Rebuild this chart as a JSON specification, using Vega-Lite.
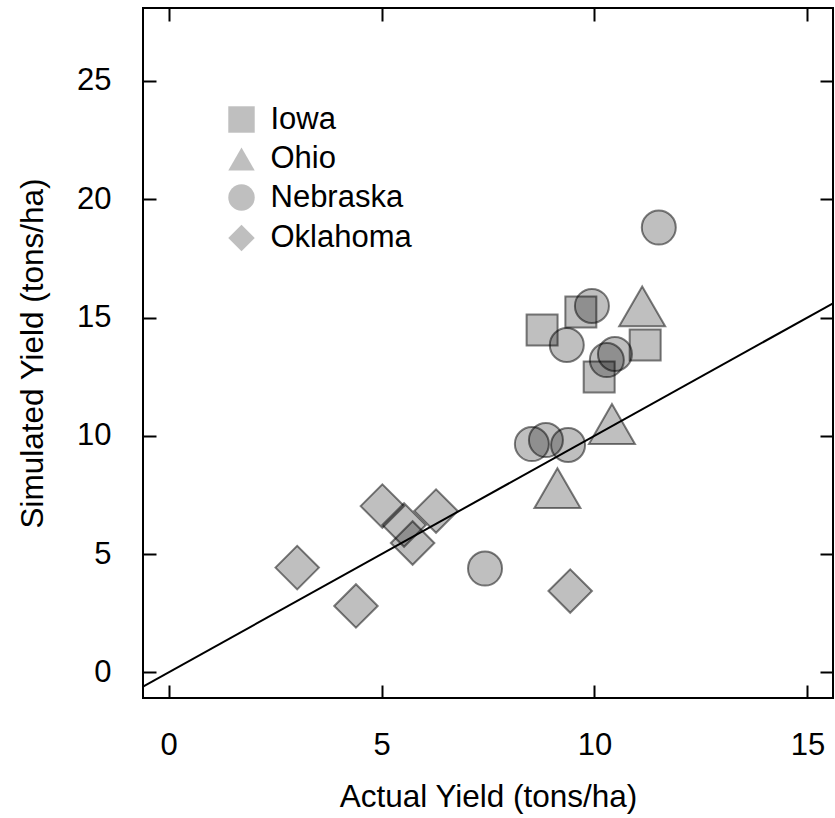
{
  "$schema": "https://vega.github.io/schema/vega-lite/v6.json",
  "width": 690,
  "height": 690,
  "autosize": {"type": "none"},
  "padding": {"left": 143, "top": 8, "right": 2, "bottom": 120},
  "background": "white",
  "config": {
    "font": "Liberation Sans",
    "view": {"stroke": "black", "strokeWidth": 2},
    "axis": {
      "grid": false,
      "domain": false,
      "tickColor": "black",
      "tickWidth": 2,
      "tickSize": -13,
      "labelFontSize": 31,
      "labelColor": "black",
      "labelFont": "Liberation Sans",
      "titleFontSize": 31.5,
      "titleColor": "black",
      "titleFont": "Liberation Sans",
      "titleFontWeight": "normal",
      "labelFlush": false,
      "labelOverlap": false
    },
    "legend": {
      "orient": "none",
      "legendX": 83,
      "legendY": 96,
      "padding": 0,
      "labelFontSize": 31,
      "labelColor": "black",
      "labelFont": "Liberation Sans",
      "labelOffset": 13.5,
      "rowPadding": 5.5,
      "symbolSize": 700,
      "symbolStrokeWidth": 2,
      "symbolFillColor": "rgba(0,0,0,0.25)",
      "symbolStrokeColor": "rgba(0,0,0,0.5)"
    }
  },
  "datasets": {
    "yields": [
      {"state": "Iowa", "actual": 8.77, "simulated": 14.47},
      {"state": "Iowa", "actual": 9.68, "simulated": 15.23},
      {"state": "Iowa", "actual": 11.19, "simulated": 13.84},
      {"state": "Iowa", "actual": 10.11, "simulated": 12.49},
      {"state": "Ohio", "actual": 11.12, "simulated": 15.47},
      {"state": "Ohio", "actual": 10.41, "simulated": 10.5},
      {"state": "Ohio", "actual": 9.13, "simulated": 7.79},
      {"state": "Nebraska", "actual": 11.51, "simulated": 18.8},
      {"state": "Nebraska", "actual": 9.94, "simulated": 15.49},
      {"state": "Nebraska", "actual": 9.35, "simulated": 13.84},
      {"state": "Nebraska", "actual": 10.48, "simulated": 13.46},
      {"state": "Nebraska", "actual": 10.29, "simulated": 13.2},
      {"state": "Nebraska", "actual": 8.53, "simulated": 9.65},
      {"state": "Nebraska", "actual": 8.86, "simulated": 9.82},
      {"state": "Nebraska", "actual": 9.38, "simulated": 9.61},
      {"state": "Nebraska", "actual": 7.43, "simulated": 4.39},
      {"state": "Oklahoma", "actual": 3.02, "simulated": 4.43},
      {"state": "Oklahoma", "actual": 4.4, "simulated": 2.81},
      {"state": "Oklahoma", "actual": 5.02, "simulated": 7.03},
      {"state": "Oklahoma", "actual": 6.28, "simulated": 6.82},
      {"state": "Oklahoma", "actual": 5.53, "simulated": 6.23},
      {"state": "Oklahoma", "actual": 5.73, "simulated": 5.47},
      {"state": "Oklahoma", "actual": 9.43, "simulated": 3.44}
    ],
    "oneToOne": [
      {"actual": -1, "simulated": -1},
      {"actual": 16, "simulated": 16}
    ]
  },
  "layer": [
    {
      "data": {"name": "yields"},
      "mark": {"type": "point", "filled": true, "fill": "rgba(0,0,0,0.25)", "stroke": "rgba(0,0,0,0.5)", "strokeWidth": 2, "opacity": 1},
      "encoding": {
        "x": {
          "field": "actual", "type": "quantitative",
          "scale": {"domain": [-0.6, 15.6], "nice": false, "zero": false},
          "axis": {"orient": "bottom", "values": [0, 5, 10, 15], "title": "Actual Yield (tons/ha)", "labelPadding": 45, "titleBaseline": "alphabetic", "titleY": 108}
        },
        "y": {
          "field": "simulated", "type": "quantitative",
          "scale": {"domain": [-1.08, 28.08], "nice": false, "zero": false},
          "axis": {"orient": "left", "values": [0, 5, 10, 15, 20, 25], "title": "Simulated Yield (tons/ha)", "labelPadding": 45, "titleBaseline": "alphabetic", "titleX": -101}
        },
        "shape": {
          "field": "state", "type": "nominal",
          "scale": {"domain": ["Iowa", "Ohio", "Nebraska", "Oklahoma"], "range": ["square", "triangle-up", "circle", "diamond"]},
          "legend": {"title": null}
        },
        "size": {
          "condition": [
            {"test": "datum.state === 'Ohio'", "value": 2116},
            {"test": "datum.state === 'Nebraska'", "value": 1156},
            {"test": "datum.state === 'Oklahoma'", "value": 1892}
          ],
          "value": 961
        }
      }
    },
    {
      "data": {"name": "oneToOne"},
      "mark": {"type": "line", "clip": true, "color": "black", "strokeWidth": 2},
      "encoding": {
        "x": {"field": "actual", "type": "quantitative", "axis": null},
        "y": {"field": "simulated", "type": "quantitative", "axis": null}
      }
    },
    {
      "data": {"name": "yields"},
      "mark": {"type": "point", "opacity": 0, "size": 0},
      "encoding": {
        "x": {"field": "actual", "type": "quantitative", "axis": {"orient": "top", "values": [0, 5, 10, 15], "labels": true, "labelOpacity": 0, "labelFontSize": 8, "title": null, "ticks": true, "tickSize": -13}},
        "y": {"field": "simulated", "type": "quantitative", "axis": {"orient": "right", "values": [0, 5, 10, 15, 20, 25], "labels": true, "labelOpacity": 0, "labelFontSize": 8, "title": null, "ticks": true, "tickSize": -13}}
      }
    }
  ],
  "resolve": {"axis": {"x": "independent", "y": "independent"}}
}
